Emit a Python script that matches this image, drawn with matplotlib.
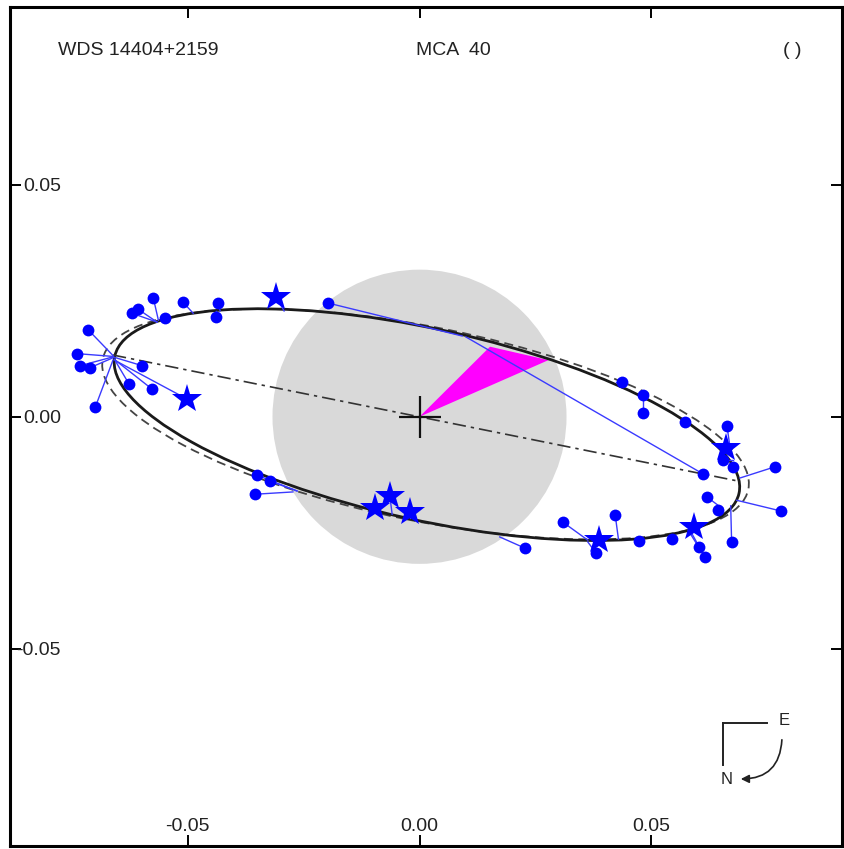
import numpy as np
import matplotlib
matplotlib.use("Agg")
import matplotlib.pyplot as plt
from matplotlib.patches import Ellipse, Circle, Polygon, FancyArrowPatch
from matplotlib.transforms import blended_transform_factory

plt.rcParams['font.family'] = ['Liberation Sans', 'DejaVu Sans']

# observations (dots): observed position and computed position on the orbit
dot_x = [-0.0574, -0.0607, -0.0620, -0.0548, -0.0510, -0.0434, -0.0439,
         -0.0714, -0.0738, -0.0732, -0.0710, -0.0598, -0.0626, -0.0576, -0.0699,
         -0.0197, 0.0611, -0.0350, -0.0322, -0.0355, 0.0227,
         0.0436, 0.0482, 0.0482, 0.0572, 0.0663, 0.0654, 0.0675, 0.0766, 0.0779,
         0.0620, 0.0643, 0.0673, 0.0602, 0.0615, 0.0309, 0.0422, 0.0381, 0.0473, 0.0544]
dot_y = [0.0256, 0.0232, 0.0223, 0.0213, 0.0247, 0.0245, 0.0215,
         0.0187, 0.0136, 0.0110, 0.0106, 0.0110, 0.0070, 0.0059, 0.0021,
         0.0245, -0.0123, -0.0126, -0.0139, -0.0167, -0.0283,
         0.0075, 0.0047, 0.0008, -0.0011, -0.0020, -0.0093, -0.0108, -0.0108, -0.0203,
         -0.0173, -0.0201, -0.0270, -0.0281, -0.0302, -0.0227, -0.0212, -0.0294, -0.0268, -0.0264]
dot_cx = [-0.0563, -0.0566, -0.0566, -0.0544, -0.0488, -0.0430, -0.0439,
          -0.0661, -0.0661, -0.0661, -0.0661, -0.0661, -0.0658, -0.0656, -0.0661,
          0.0092, 0.0100, -0.0264, -0.0264, -0.0273, 0.0173,
          0.0424, 0.0482, 0.0482, 0.0572, 0.0671, 0.0675, 0.0682, 0.0691, 0.0684,
          0.0652, 0.0654, 0.0671, 0.0579, 0.0583, 0.0363, 0.0429, 0.0363, 0.0475, 0.0544]
dot_cy = [0.0208, 0.0204, 0.0204, 0.0213, 0.0223, 0.0228, 0.0228,
          0.0132, 0.0130, 0.0129, 0.0127, 0.0129, 0.0124, 0.0122, 0.0122,
          0.0174, 0.0172, -0.0160, -0.0160, -0.0162, -0.0259,
          0.0075, 0.0051, 0.0047, -0.0014, -0.0076, -0.0093, -0.0106, -0.0132, -0.0180,
          -0.0197, -0.0197, -0.0192, -0.0244, -0.0244, -0.0266, -0.0264, -0.0270, -0.0268, -0.0257]

# observations (stars)
star_x = [-0.0501, -0.0309, -0.0096, -0.0064, -0.0021, 0.0661, 0.0592, 0.0388]
star_y = [0.0038, 0.0258, -0.0197, -0.0171, -0.0205, -0.0067, -0.0238, -0.0266]
star_cx = [-0.0654, -0.0292, -0.0086, -0.0059, -0.0021, 0.0669, 0.0583, 0.0388]
star_cy = [0.0120, 0.0228, -0.0205, -0.0210, -0.0218, -0.0076, -0.0244, -0.0266]

# orbit ellipses: centre, full width, full height, angle (deg)
orbit_new = (0.0016, -0.0017, 0.1378, 0.0412, -12.4)
orbit_old = (0.0013, -0.0016, 0.1420, 0.0418, -11.4)
node_x = [-0.0661, 0.0684]
node_y = [0.0133, -0.0138]
wedge_x = [0.0, 0.0152, 0.0278]
wedge_y = [0.0, 0.0151, 0.0122]
disk_r = 0.0317

ticks = [-0.05, 0.0, 0.05]
tick_labels = ['-0.05', '0.00', '0.05']

fig = plt.figure(figsize=(8.44, 8.49), dpi=100)
ax = fig.add_axes([10 / 844, 3 / 849, 832 / 844, 839 / 849])
ax.set_xlim(-0.0883, 0.0911)
ax.set_ylim(-0.0925, 0.0883)

ax.add_patch(Circle((0, 0), disk_r, color='#d9d9d9', lw=0, zorder=1))
ax.add_patch(Polygon(np.column_stack([wedge_x, wedge_y]), closed=True,
                     color='#ff00ff', lw=0, zorder=2))

cx, cy, w, h, ang = orbit_old
ax.add_patch(Ellipse((cx, cy), w, h, angle=ang, fill=False, ec='#444444',
                     lw=1.3, ls=(0, (5, 3)), zorder=3))
cx, cy, w, h, ang = orbit_new
ax.add_patch(Ellipse((cx, cy), w, h, angle=ang, fill=False, ec='#1a1a1a',
                     lw=2.0, zorder=3))
ax.plot(node_x, node_y, color='#333333', lw=1.2, ls=(0, (8, 3, 2, 3)), zorder=3)

# O-C lines
for xo, yo, xc, yc in zip(dot_x + star_x, dot_y + star_y, dot_cx + star_cx, dot_cy + star_cy):
    ax.plot([xo, xc], [yo, yc], color='#3a3aff', lw=1.0, zorder=4)

ax.plot(dot_x, dot_y, 'o', color='#0000ff', ms=8.5, mew=0, zorder=5)
ax.plot(star_x, star_y, '*', color='#0000ff', ms=22, mew=0, zorder=5)

ax.plot(0, 0, '+', color='#111111', ms=30, mew=1.6, zorder=6)

# axes frame and ticks
for s in ax.spines.values():
    s.set_linewidth(2.2)
ax.set_xticks(ticks)
ax.set_yticks(ticks)
ax.tick_params(direction='in', length=8, width=1.4, top=True, right=True,
               labelbottom=False, labelleft=False)

ty = blended_transform_factory(ax.transAxes, ax.transData)
tx = blended_transform_factory(ax.transData, ax.transAxes)
for t, lab in zip(ticks, tick_labels):
    ax.text(0.0613, t - 0.0004, lab, transform=ty, ha='right', va='center', fontsize=14, color='#222222')
    ax.text(t, 0.0238, lab, transform=tx, ha='center', va='center', fontsize=14, color='#222222')

ax.text(0.0577, 0.948, 'WDS 14404+2159', transform=ax.transAxes, fontsize=14, va='center', color='#222222')
ax.text(0.488, 0.948, 'MCA  40', transform=ax.transAxes, fontsize=14, va='center', color='#222222')
ax.text(0.929, 0.948, '( )', transform=ax.transAxes, fontsize=14, va='center', color='#222222')

# compass
ax.plot([0.8573, 0.9099], [0.1462, 0.1462], transform=ax.transAxes, color='#222222', lw=1.4)
ax.plot([0.8573, 0.8573], [0.1462, 0.0965], transform=ax.transAxes, color='#222222', lw=1.4)
ax.text(0.9303, 0.1490, 'E', transform=ax.transAxes, ha='center', va='center', fontsize=12, color='#222222')
ax.text(0.8618, 0.0787, 'N', transform=ax.transAxes, ha='center', va='center', fontsize=12, color='#222222')
ax.add_patch(FancyArrowPatch((0.9279, 0.1299), (0.875, 0.0799), transform=ax.transAxes,
                             connectionstyle='arc3,rad=-0.5', arrowstyle='-|>',
                             mutation_scale=12, color='#222222', lw=1.2))

fig.savefig('out.png', dpi=100)
